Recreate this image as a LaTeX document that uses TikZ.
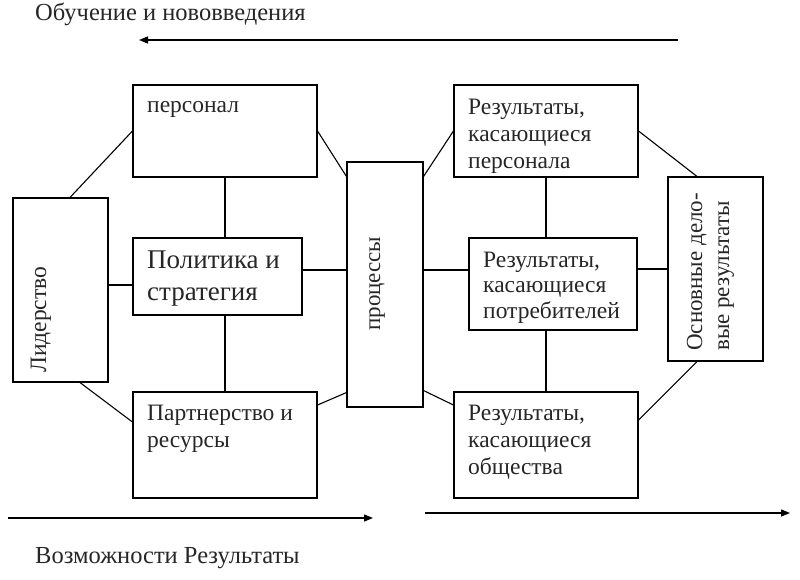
\documentclass[tikz,border=0pt]{standalone}
\usepackage{fontspec}
\setmainfont{Liberation Serif}
\usetikzlibrary{arrows.meta,calc}
\newcommand\mlines[1]{\begin{tabular}[t]{@{}l@{}}#1\end{tabular}}
\begin{document}
\begin{tikzpicture}[x=1pt,y=-1pt,
  box/.style={draw, line width=1.1pt, rectangle, inner sep=0pt},
  txt/.style={inner sep=0pt, anchor=base west, text=black!85, font=\fontsize{23.5}{27}\selectfont},
  link/.style={line width=1.1pt},
  arr/.style={line width=1.3pt, -{Triangle[length=9pt,width=7pt]}}]
\useasboundingbox (0,0) rectangle (800,580);
% boxes
\node[box, minimum width=95pt, minimum height=184pt] (lid) at (60.5,290) {};
\node[box, minimum width=184pt, minimum height=92pt] (pers) at (225,131) {};
\node[box, minimum width=169pt, minimum height=77pt] (pol) at (217.5,276.5) {};
\node[box, minimum width=184pt, minimum height=106pt] (part) at (225,445) {};
\node[box, minimum width=76pt, minimum height=245pt] (proc) at (385,284.5) {};
\node[box, minimum width=184pt, minimum height=92pt] (rpers) at (546,131) {};
\node[box, minimum width=168pt, minimum height=92pt] (rpotr) at (553,284) {};
\node[box, minimum width=184pt, minimum height=106pt] (robsh) at (546,445) {};
\node[box, minimum width=95pt, minimum height=184pt] (osn) at (715.5,269) {};
% texts
\node[txt] (persT) at (147,113) {персонал};
\node[txt, font=\fontsize{27}{32}\selectfont] (polT) at (147,268) {\mlines{Политика и\\стратегия}};
\node[txt] (partT) at (147,420) {\mlines{Партнерство и\\ресурсы}};
\node[txt] (rpersT) at (468,115) {\mlines{Результаты,\\касающиеся\\персонала}};
\node[txt, font=\fontsize{23.5}{25.5}\selectfont] (rpotrT) at (483,267) {\mlines{Результаты,\\касающиеся\\потребителей}};
\node[txt] (robshT) at (468,420) {\mlines{Результаты,\\касающиеся\\общества}};
\node[txt, rotate=90] (lidT) at (46,373) {Лидерство};
\node[txt, font=\fontsize{23}{27}\selectfont, rotate=90] (procT) at (380,331) {процессы};
\node[txt, font=\fontsize{23}{27}\selectfont, rotate=90] (osnT) at (702,351) {\mlines{Основные дело-\\вые результаты}};
\node[txt, font=\fontsize{24.5}{28}\selectfont] (title) at (35,21) {Обучение и нововведения};
\node[txt, font=\fontsize{24.5}{28}\selectfont] (bottom) at (35,563) {Возможности Результаты};
% connectors
\draw[link] ([xshift=9.5pt]lid.north) -- (pers.west);
\draw[link] ([xshift=19.5pt]lid.south) -- ([yshift=23pt]part.west);
\draw[link] ([yshift=5pt]lid.east) -- ([yshift=5pt]lid.east -| pol.west);
\draw[link] (pers.south) -- (pers.south |- pol.north);
\draw[link] (part.north |- pol.south) -- (part.north);
\draw[link] (pers.east) -- ([yshift=-15pt]proc.north west);
\draw[link] ([yshift=40pt]part.east) -- ([yshift=15pt]proc.south west);
\draw[link] ([yshift=6.5pt]pol.east) -- ([yshift=6.5pt]pol.east -| proc.west);
\draw[link] ([yshift=-15pt]proc.north east) -- (rpers.west);
\draw[link] ([yshift=17pt]proc.south east) -- ([yshift=40pt]robsh.west);
\draw[link] ([yshift=14.5pt]proc.east) -- ([yshift=14.5pt]proc.east -| rpotr.west);
\draw[link] (rpers.south) -- (rpers.south |- rpotr.north);
\draw[link] (robsh.north |- rpotr.south) -- (robsh.north);
\draw[link] (rpers.east) -- ([xshift=-18.5pt]osn.north);
\draw[link] (osn.west -| rpotr.east) -- (osn.west);
\draw[link] ([yshift=25pt]robsh.east) -- ([xshift=-18.5pt]osn.south);
% arrows
\coordinate (t1) at (678,40);
\coordinate (t2) at (139,40);
\coordinate (b1) at (8,518);
\coordinate (b2) at (373,518);
\coordinate (b3) at (425,513);
\coordinate (b4) at (790,513);
\draw[arr] (t1) -- (t2);
\draw[arr] (b1) -- (b2);
\draw[arr] (b3) -- (b4);
\end{tikzpicture}
\end{document}
